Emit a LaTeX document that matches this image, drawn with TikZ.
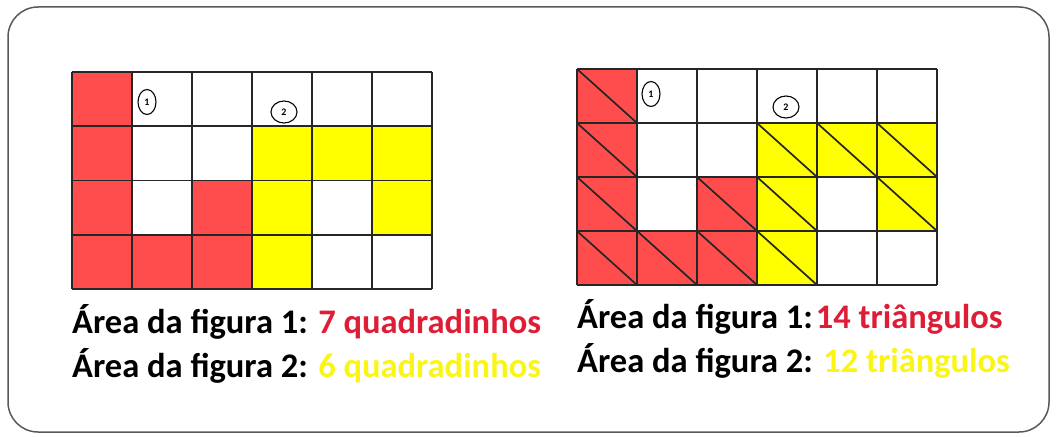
\documentclass[tikz,border=0pt]{standalone}
\usepackage{fontspec}
\setmainfont{Carlito}
\usetikzlibrary{shapes.geometric}
\definecolor{cellred}{RGB}{255,77,77}
\definecolor{cellyel}{RGB}{255,255,0}
\definecolor{txtred}{RGB}{222,30,55}
\definecolor{txtyel}{RGB}{250,245,20}
\tikzset{
  gridline/.style={line width=1.7pt,black!85},
  tag/.style={draw,ellipse,inner sep=0pt,line width=1.1pt,font=\fontsize{10}{10}\selectfont\bfseries},
  lbl/.style={anchor=base west,inner sep=0pt,font=\fontsize{34.5}{40}\selectfont\bfseries},
}
\begin{document}
\begin{tikzpicture}[x=1pt,y=-1pt]
    \useasboundingbox (0,0) rectangle (1056,436);
    \draw[black!65,line width=1.5pt,rounded corners=30pt] (8,7) rectangle (1049,432);
    % figura com quadradinhos
    \begin{scope}[shift={(72,72)}]
      \foreach \c/\r in {0/0,0/1,0/2,2/2,0/3,1/3,2/3} \fill[cellred] (60*\c,54*\r) rectangle ++(60,54);
      \foreach \c/\r in {3/1,4/1,5/1,3/2,5/2,3/3} \fill[cellyel] (60*\c,54*\r) rectangle ++(60,54);
      \foreach \c in {0,...,6} \draw[gridline] (60*\c,0) -- (60*\c,217);
      \foreach \r in {0,...,4} \draw[gridline] (0,54.25*\r) -- (360,54.25*\r);
      \node[tag,minimum width=18pt,minimum height=25pt] (q1) at (75,30) {1};
      \node[tag,minimum width=26pt,minimum height=22pt] (q2) at (212,40) {2};
    \end{scope}
    % figura com triangulos
    \begin{scope}[shift={(577,69)}]
      \foreach \c/\r in {0/0,0/1,0/2,2/2,0/3,1/3,2/3} \fill[cellred] (60*\c,54*\r) rectangle ++(60,54);
      \foreach \c/\r in {3/1,4/1,5/1,3/2,5/2,3/3} \fill[cellyel] (60*\c,54*\r) rectangle ++(60,54);
      \foreach \c/\r in {0/0,0/1,0/2,2/2,0/3,1/3,2/3,3/1,4/1,5/1,3/2,5/2,3/3}
        \draw[gridline] (60*\c,54*\r) -- ++(60,54);
      \foreach \c in {0,...,6} \draw[gridline] (60*\c,0) -- (60*\c,216);
      \foreach \r in {0,...,4} \draw[gridline] (0,54*\r) -- (360,54*\r);
      \node[tag,minimum width=18pt,minimum height=25pt] (t1) at (74,25) {1};
      \node[tag,minimum width=26pt,minimum height=22pt] (t2) at (209,38) {2};
    \end{scope}
    \node[lbl] (qa) at (72,333) {Área da figura 1: \textcolor{txtred}{7 quadradinhos}};
    \node[lbl] (qb) at (72,377) {Área da figura 2: \textcolor{txtyel}{6 quadradinhos}};
    \node[lbl] (ta) at (577,328) {Área da figura 1:\hspace{3pt}\textcolor{txtred}{14 triângulos}};
    \node[lbl] (tb) at (577,372) {Área da figura 2: \textcolor{txtyel}{12 triângulos}};
  \end{tikzpicture}
\end{document}
